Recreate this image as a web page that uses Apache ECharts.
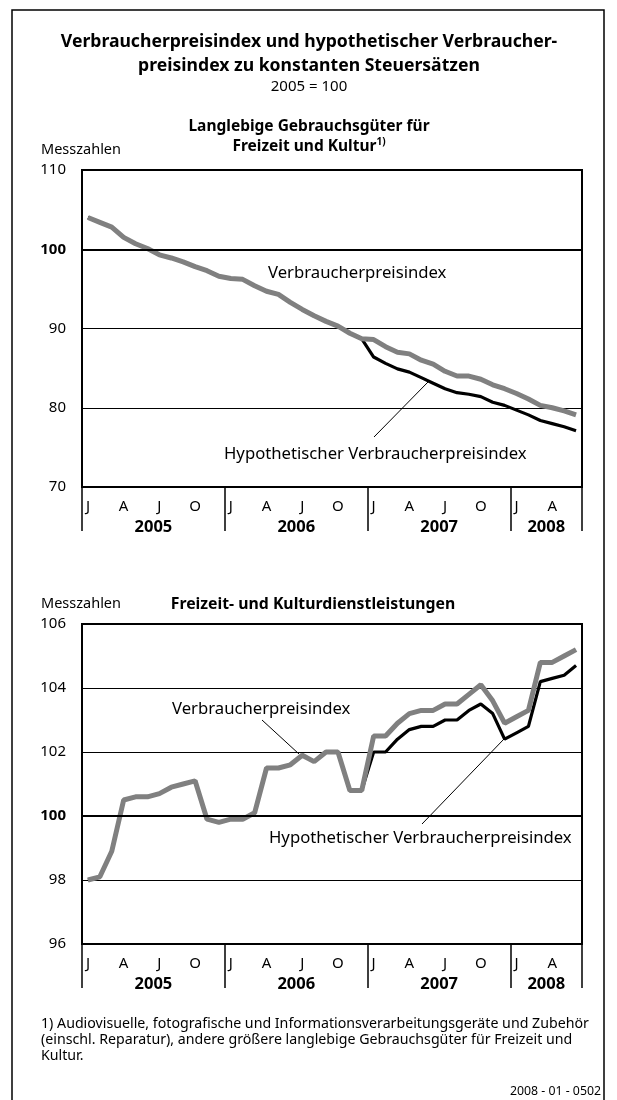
<!DOCTYPE html>
<html>
<head>
<meta charset="utf-8">
<script src="https://cdn.jsdelivr.net/npm/echarts@6/dist/echarts.min.js"></script>
<style>
  html, body { margin: 0; padding: 0; background: #fff; }
  #chart { width: 617px; height: 1100px; }
</style>
</head>
<body>
<div id="chart"></div>
<script>
// Months Jan 2005 .. Jun 2008
const months = [
  '2005-01','2005-02','2005-03','2005-04','2005-05','2005-06','2005-07','2005-08','2005-09','2005-10','2005-11','2005-12',
  '2006-01','2006-02','2006-03','2006-04','2006-05','2006-06','2006-07','2006-08','2006-09','2006-10','2006-11','2006-12',
  '2007-01','2007-02','2007-03','2007-04','2007-05','2007-06','2007-07','2007-08','2007-09','2007-10','2007-11','2007-12',
  '2008-01','2008-02','2008-03','2008-04','2008-05','2008-06'
];
const monthInitials = ['J','F','M','A','M','J','J','A','S','O','N','D'];
const yearLabels = ['2005','2006','2007','2008'];
const yearBounds = [0, 12, 24, 36, 42];     // month offsets of the year dividers
const yearCentres = [6, 18, 30, 39];        // month offsets where the year names sit

// Langlebige Gebrauchsgüter für Freizeit und Kultur
const cpiDurable = [
  104.0, 103.4, 102.8, 101.5, 100.7, 100.1, 99.3, 98.9, 98.4, 97.8, 97.3, 96.6,
  96.3, 96.2, 95.4, 94.7, 94.3, 93.3, 92.4, 91.6, 90.9, 90.3, 89.4, 88.7,
  88.6, 87.7, 87.0, 86.8, 86.0, 85.5, 84.6, 84.0, 84.0, 83.6, 82.9, 82.4,
  81.8, 81.1, 80.3, 80.0, 79.6, 79.1
];
const hypDurable = [
  104.0, 103.4, 102.8, 101.5, 100.7, 100.1, 99.3, 98.9, 98.4, 97.8, 97.3, 96.6,
  96.3, 96.2, 95.4, 94.7, 94.3, 93.3, 92.4, 91.6, 90.9, 90.3, 89.4, 88.7,
  86.4, 85.6, 84.9, 84.5, 83.8, 83.1, 82.4, 81.9, 81.7, 81.4, 80.7, 80.3,
  79.7, 79.1, 78.4, 78.0, 77.6, 77.1
];

// Freizeit- und Kulturdienstleistungen
const cpiServices = [
  98.0, 98.1, 98.9, 100.5, 100.6, 100.6, 100.7, 100.9, 101.0, 101.1, 99.9, 99.8,
  99.9, 99.9, 100.1, 101.5, 101.5, 101.6, 101.9, 101.7, 102.0, 102.0, 100.8, 100.8,
  102.5, 102.5, 102.9, 103.2, 103.3, 103.3, 103.5, 103.5, 103.8, 104.1, 103.6, 102.9,
  103.1, 103.3, 104.8, 104.8, 105.0, 105.2
];
const hypServices = [
  98.0, 98.1, 98.9, 100.5, 100.6, 100.6, 100.7, 100.9, 101.0, 101.1, 99.9, 99.8,
  99.9, 99.9, 100.1, 101.5, 101.5, 101.6, 101.9, 101.7, 102.0, 102.0, 100.8, 100.8,
  102.0, 102.0, 102.4, 102.7, 102.8, 102.8, 103.0, 103.0, 103.3, 103.5, 103.2, 102.4,
  102.6, 102.8, 104.2, 104.3, 104.4, 104.7
];

const durableAxis = { min: 70, max: 110, interval: 10 };
const servicesAxis = { min: 96, max: 106, interval: 2 };

const FONT = '"Noto Sans", "Open Sans", sans-serif';
const GREY = '#808080';

const panels = [
  { top: 170, height: 317 },
  { top: 624, height: 320 }
];

const grids = [];
const xAxes = [];
const yAxes = [];
const series = [];

function addPanel(p, axisRange, cpi, hyp) {
  const g = grids.length;
  // data grid
  grids.push({ left: 82, right: 35, top: p.top, height: p.height, show: true,
               borderColor: '#000', borderWidth: 2, backgroundColor: 'transparent' });
  // overlay grid carrying the year dividers and year names
  grids.push({ left: 82, right: 35, top: p.top, height: p.height, show: false });

  xAxes.push({
    type: 'category', gridIndex: g, data: months, boundaryGap: true,
    axisLine: { lineStyle: { color: '#000', width: 2 } },
    axisTick: { interval: 0, length: 6, lineStyle: { color: '#000', width: 1 } },
    axisLabel: {
      interval: (i) => i % 3 === 0,
      formatter: (v, i) => monthInitials[i % 12],
      margin: 12, color: '#000', fontSize: 15, fontFamily: FONT
    },
    splitLine: { show: false }
  });
  xAxes.push({
    type: 'value', gridIndex: g + 1, min: 0, max: months.length, position: 'bottom',
    axisLine: { show: false },
    splitLine: { show: false },
    axisTick: { show: true, customValues: yearBounds, length: 44,
                lineStyle: { color: '#000', width: 1.5 } },
    axisLabel: {
      customValues: yearCentres,
      formatter: (v) => yearLabels[yearCentres.indexOf(v)],
      margin: 32, color: '#000', fontSize: 16.5, fontWeight: 'bold', fontFamily: FONT
    }
  });

  yAxes.push({
    type: 'value', gridIndex: g, min: axisRange.min, max: axisRange.max, interval: axisRange.interval,
    axisLine: { show: false }, axisTick: { show: false },
    splitLine: { show: true, lineStyle: { color: '#000', width: 1 } },
    axisLabel: {
      margin: 16, color: '#000', fontSize: 15, fontFamily: FONT,
      formatter: (v) => v === 100 ? '{b|100}' : String(v),
      rich: { b: { fontWeight: 'bold', fontSize: 15, fontFamily: FONT, color: '#000' } }
    }
  });
  yAxes.push({ type: 'value', gridIndex: g + 1, min: 0, max: 1, show: false });

  const xi = xAxes.length - 2;
  const yi = yAxes.length - 2;
  series.push({
    name: 'Hypothetischer Verbraucherpreisindex', type: 'line',
    xAxisIndex: xi, yAxisIndex: yi, data: hyp,
    symbol: 'none', z: 3,
    lineStyle: { color: '#000', width: 3.2 },
    markLine: {
      silent: true, symbol: ['none', 'none'], label: { show: false },
      lineStyle: { color: '#000', width: 2, type: 'solid' },
      data: [{ yAxis: 100 }]
    }
  });
  series.push({
    name: 'Verbraucherpreisindex', type: 'line',
    xAxisIndex: xi, yAxisIndex: yi, data: cpi,
    symbol: 'none', z: 4,
    lineStyle: { color: GREY, width: 5 }
  });
}

addPanel(panels[0], durableAxis, cpiDurable, hypDurable);
addPanel(panels[1], servicesAxis, cpiServices, hypServices);

function txt(x, y, text, size, extra) {
  return {
    type: 'text', x: x, y: y, silent: true,
    style: Object.assign({
      text: text, fill: '#000', fontSize: size, fontFamily: FONT,
      textAlign: 'left', textVerticalAlign: 'middle'
    }, extra || {})
  };
}
function ctxt(x, y, text, size, weight) {
  return txt(x, y, text, size, { textAlign: 'center', fontWeight: weight || 'normal' });
}
function leader(x1, y1, x2, y2) {
  return { type: 'line', silent: true, shape: { x1, y1, x2, y2 },
           style: { stroke: '#000', lineWidth: 1 } };
}

const graphic = [
  { type: 'rect', silent: true, shape: { x: 12, y: 10, width: 592, height: 1110 },
    style: { fill: 'none', stroke: '#000', lineWidth: 1.5 } },
  ctxt(309, 42, 'Verbraucherpreisindex und hypothetischer Verbraucher-', 17.6, 'bold'),
  ctxt(309, 66, 'preisindex zu konstanten Steuersätzen', 17.6, 'bold'),
  ctxt(309, 87, '2005 = 100', 15),
  ctxt(309, 127, 'Langlebige Gebrauchsgüter für', 15.5, 'bold'),
  {
    type: 'text', x: 309, y: 147, silent: true,
    style: {
      text: '{m|Freizeit und Kultur}{s|1)}', textAlign: 'center', textVerticalAlign: 'middle',
      rich: {
        m: { fontSize: 15.5, fontWeight: 'bold', fontFamily: FONT, fill: '#000', lineHeight: 20 },
        s: { fontSize: 10, fontWeight: 'bold', fontFamily: FONT, fill: '#000', lineHeight: 20,
             verticalAlign: 'top', padding: [0, 0, 8, 0] }
      }
    }
  },
  txt(41, 150, 'Messzahlen', 14.5),
  ctxt(313, 604, 'Freizeit- und Kulturdienstleistungen', 15.8, 'bold'),
  txt(41, 604, 'Messzahlen', 14.5),

  // panel 1 annotations
  txt(268, 273, 'Verbraucherpreisindex', 16.7),
  txt(224, 454, 'Hypothetischer Verbraucherpreisindex', 16.7),
  leader(374, 437, 428, 382),
  // panel 2 annotations
  txt(172, 709, 'Verbraucherpreisindex', 16.7),
  leader(262, 720, 299, 754),
  txt(269, 838, 'Hypothetischer Verbraucherpreisindex', 16.7),
  leader(422, 824, 504, 739),

  // footnote
  txt(41, 1024, '1) Audiovisuelle, fotografische und Informationsverarbeitungsgeräte und Zubehör', 14.2),
  txt(41, 1040, '(einschl. Reparatur), andere größere langlebige Gebrauchsgüter für Freizeit und', 14.2),
  txt(41, 1056, 'Kultur.', 14.2),
  txt(601, 1091, '2008 - 01 - 0502', 12.3, { textAlign: 'right' })
];

const chart = echarts.init(document.getElementById('chart'), null, { renderer: 'canvas' });
chart.setOption({
  animation: false,
  backgroundColor: '#fff',
  grid: grids,
  xAxis: xAxes,
  yAxis: yAxes,
  series: series,
  graphic: graphic
});
</script>
</body>
</html>
